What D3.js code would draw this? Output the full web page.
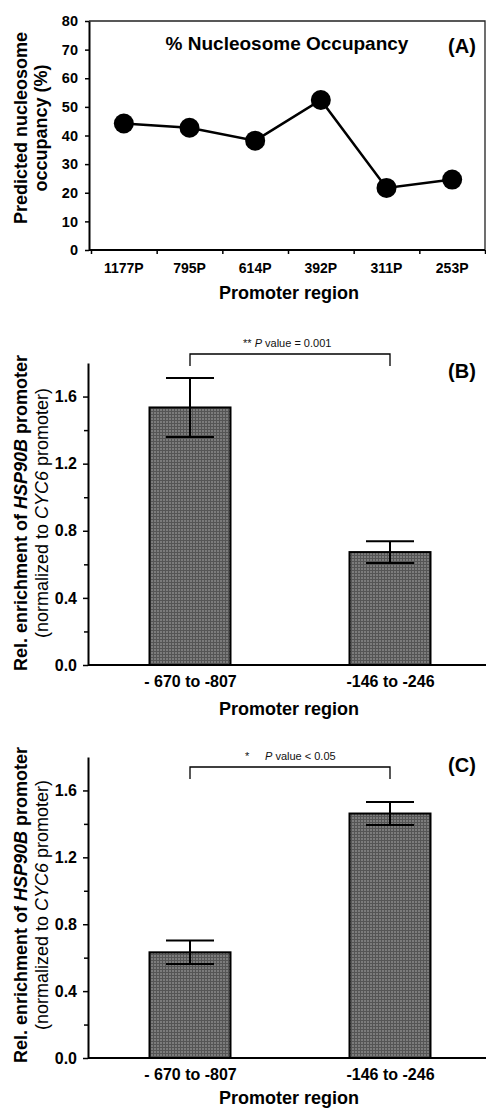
<!DOCTYPE html>
<html>
<head>
<meta charset="utf-8">
<script src="https://cdn.jsdelivr.net/npm/d3@7"></script>
<style>
  body { margin: 0; background: #fff; }
  svg { display: block; font-family: "Liberation Sans", Arial, sans-serif; }
</style>
</head>
<body>
<svg id="chart" width="486" height="1109"></svg>
<script>
// panel A: predicted nucleosome occupancy
var occCategories = ["1177P", "795P", "614P", "392P", "311P", "253P"]
var occValues = [44.2, 42.7, 38.2, 52.4, 21.7, 24.6]
var occTicks = [0, 10, 20, 30, 40, 50, 60, 70, 80]

// panels B and C: ChIP enrichment
var regions = ["- 670 to -807", "-146 to -246"]
var enrichB = [1.535, 0.673]
var errB = [0.176, 0.065]
var enrichC = [0.632, 1.462]
var errC = [0.07, 0.069]
var enrichTicks = [0, 0.4, 0.8, 1.2, 1.6]
var enrichMinor = [0.2, 0.6, 1.0, 1.4]

var svg = d3.select("#chart")

// bar texture
var pat = svg.append("defs").append("pattern")
    .attr("id", "hatch")
    .attr("width", 3)
    .attr("height", 3)
    .attr("patternUnits", "userSpaceOnUse")
pat.append("rect").attr("width", 3).attr("height", 3).attr("fill", "#7c7c7c")
pat.append("rect").attr("width", 3).attr("height", 1).attr("fill", "#555")
pat.append("rect").attr("width", 1).attr("height", 3).attr("fill", "#555")

function styleAxis(g) {
    g.select(".domain").attr("stroke", "#000").attr("stroke-width", 2)
    g.selectAll(".tick line").attr("stroke", "#000").attr("stroke-width", 1.5)
    g.selectAll(".tick text")
        .attr("fill", "#000")
        .style("font-family", "Liberation Sans, Arial, sans-serif")
        .style("font-weight", "bold")
}

// ---------- Panel A ----------
var dimsA = { left: 89, right: 485, top: 21, bottom: 250 }

var xA = d3.scaleBand()
    .domain(occCategories)
    .range([91, dimsA.right])

var yA = d3.scaleLinear()
    .domain([0, 80])
    .range([dimsA.bottom, dimsA.top])

// frame top and right
svg.append("path")
    .attr("d", `M${dimsA.left},${dimsA.top}H${dimsA.right}V${dimsA.bottom}`)
    .attr("fill", "none")
    .attr("stroke", "#222")
    .attr("stroke-width", 1.3)

var boundary = d3.scaleLinear().domain([0, 6]).range(xA.range())
svg.append("g")
    .attr("transform", `translate(0,${dimsA.bottom})`)
    .call(d3.axisBottom(boundary).ticks(6).tickSize(4).tickSizeOuter(0).tickFormat(""))
    .call(styleAxis)
    .select(".domain").attr("d", `M${dimsA.left},0H${dimsA.right}`)

svg.append("g")
    .attr("transform", `translate(0,${dimsA.bottom})`)
    .call(d3.axisBottom(xA).tickSize(0).tickPadding(13))
    .call(g => g.select(".domain").remove())
    .call(styleAxis)
    .selectAll("text").style("font-size", "14px")

svg.append("g")
    .attr("transform", `translate(${dimsA.left},0)`)
    .call(d3.axisLeft(yA).tickValues(occTicks).tickSize(4).tickSizeOuter(0).tickPadding(7))
    .call(styleAxis)
    .selectAll("text").style("font-size", "14.5px")

var line = d3.line()
    .x((d, i) => xA(occCategories[i]) + xA.bandwidth() / 2)
    .y(d => yA(d))

svg.append("path")
    .datum(occValues)
    .attr("d", line)
    .attr("fill", "none")
    .attr("stroke", "#000")
    .attr("stroke-width", 2.5)

svg.selectAll(".dot")
    .data(occValues)
    .enter()
    .append("circle")
    .attr("cx", (d, i) => xA(occCategories[i]) + xA.bandwidth() / 2)
    .attr("cy", d => yA(d))
    .attr("r", 10)
    .attr("fill", "#000")

svg.append("text")
    .attr("x", 287).attr("y", 50)
    .attr("text-anchor", "middle")
    .style("font-size", "19px").style("font-weight", "bold")
    .text("% Nucleosome Occupancy")

svg.append("text")
    .attr("x", 462).attr("y", 53)
    .attr("text-anchor", "middle")
    .style("font-size", "20px").style("font-weight", "bold")
    .text("(A)")

svg.append("text")
    .attr("x", 289).attr("y", 299)
    .attr("text-anchor", "middle")
    .style("font-size", "18px").style("font-weight", "bold")
    .text("Promoter region")

var titleA = svg.append("text")
    .attr("transform", "translate(0,128) rotate(-90)")
    .attr("text-anchor", "middle")
    .style("font-size", "18px").style("font-weight", "bold")
titleA.append("tspan").attr("x", 0).attr("y", 27).text("Predicted nucleosome")
titleA.append("tspan").attr("x", 0).attr("y", 47).text("occupancy (%)")

// ---------- Panels B and C ----------
function barPanel(opts) {
    var x = d3.scalePoint()
        .domain(regions)
        .range([90, 490])
        .padding(0.5)
    var barW = x.step() * 0.405

    var y = d3.scaleLinear()
        .domain([0, 1.8])
        .range([opts.bottom, opts.top])

    var g = svg.append("g")

    g.selectAll("rect.bar")
        .data(opts.values)
        .enter()
        .append("rect")
        .attr("class", "bar")
        .attr("x", (d, i) => x(regions[i]) - barW / 2)
        .attr("y", d => y(d))
        .attr("width", barW)
        .attr("height", d => y(0) - y(d))
        .attr("fill", "url(#hatch)")
        .attr("stroke", "#000")
        .attr("stroke-width", 2)

    var capW = 24
    opts.values.forEach(function(v, i) {
        var cx = x(regions[i])
        var e = opts.errors[i]
        g.append("path")
            .attr("d", `M${cx},${y(v + e)}V${y(v - e)}M${cx - capW},${y(v + e)}H${cx + capW}M${cx - capW},${y(v - e)}H${cx + capW}`)
            .attr("fill", "none")
            .attr("stroke", "#000")
            .attr("stroke-width", 2)
    })

    g.append("g")
        .attr("transform", `translate(0,${opts.bottom})`)
        .call(d3.axisBottom(x).tickSize(0).tickPadding(11))
        .call(styleAxis)
        .call(a => a.select(".domain").attr("d", "M88,0H486"))
        .selectAll("text").style("font-size", "16px")

    g.append("g")
        .attr("transform", "translate(88,0)")
        .call(d3.axisLeft(y).tickValues(enrichMinor).tickSize(4).tickFormat(""))
        .call(a => a.select(".domain").remove())
        .call(styleAxis)

    g.append("g")
        .attr("transform", "translate(88,0)")
        .call(d3.axisLeft(y).tickValues(enrichTicks).tickSize(5).tickSizeOuter(0).tickPadding(6).tickFormat(d3.format(".1f")))
        .call(styleAxis)
        .selectAll("text").style("font-size", "16px")

    // significance bracket
    var x1 = x(regions[0]), x2 = x(regions[1])
    g.append("path")
        .attr("d", `M${x1},${opts.bracketY + 12}V${opts.bracketY}H${x2}V${opts.bracketY + 12}`)
        .attr("fill", "none")
        .attr("stroke", "#000")
        .attr("stroke-width", 1.3)

    var sig = g.append("text")
        .attr("y", opts.bracketY - 7)
        .style("font-size", "11px")
        .attr("fill", "#111")
    opts.sigText(sig)

    g.append("text")
        .attr("x", 462).attr("y", opts.top + 15)
        .attr("text-anchor", "middle")
        .style("font-size", "20px").style("font-weight", "bold")
        .text(opts.label)

    g.append("text")
        .attr("x", 289).attr("y", opts.bottom + opts.titleGap)
        .attr("text-anchor", "middle")
        .style("font-size", "18px").style("font-weight", "bold")
        .text("Promoter region")

    var t = g.append("text")
        .attr("transform", `translate(0,${opts.titleY}) rotate(-90)`)
        .attr("text-anchor", "middle")
        .style("font-size", "18px")
    var l1 = t.append("tspan").attr("x", 0).attr("y", 27).style("font-weight", "bold")
    l1.append("tspan").text("Rel. enrichment of ")
    l1.append("tspan").style("font-style", "italic").text("HSP90B")
    l1.append("tspan").text(" promoter")
    var l2 = t.append("tspan").attr("x", 0).attr("y", 48)
    l2.append("tspan").text("(normalized to ")
    l2.append("tspan").style("font-style", "italic").text("CYC6")
    l2.append("tspan").text(" promoter)")
}

barPanel({
    top: 363, bottom: 665, titleGap: 50,
    values: enrichB, errors: errB,
    bracketY: 354, titleY: 513, label: "(B)",
    sigText: function(s) {
        s.attr("x", 243)
        s.append("tspan").text("** ")
        s.append("tspan").style("font-style", "italic").text("P")
        s.append("tspan").text(" value = 0.001")
    }
})

barPanel({
    top: 757, bottom: 1058, titleGap: 46,
    values: enrichC, errors: errC,
    bracketY: 767, titleY: 905, label: "(C)",
    sigText: function(s) {
        s.attr("x", 245)
        s.append("tspan").text("*")
        s.append("tspan").attr("x", 265).style("font-style", "italic").text("P")
        s.append("tspan").text(" value < 0.05")
    }
})
</script>
</body>
</html>
